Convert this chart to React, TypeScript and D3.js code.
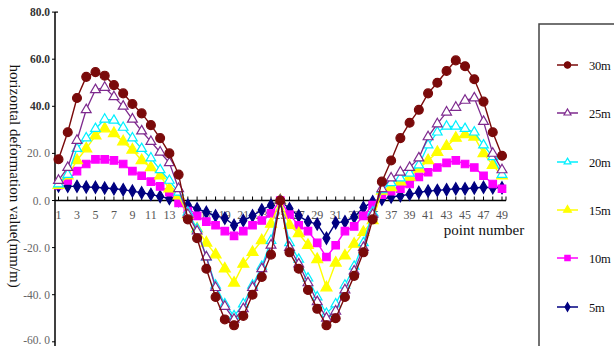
import React from "react";
import * as d3 from "d3";

// Point numbers along the survey line
const points: number[] = d3.range(1, 50);

// Horizontal deformation (mm/m) per mining depth
const s30m: number[] = [17.5, 29, 43.5, 52.5, 54.5, 53, 49, 45.5, 41, 37, 32, 26.5, 20, 11,
  -8, -16, -29, -41, -50.5, -53, -49, -40, -32.5, -23, 0,
  -22, -29, -38, -46, -53, -50, -41, -32, -22, -8,
  8, 17, 26.5, 33, 38.5, 45.5, 50, 55, 59.5, 57, 51.5, 42, 29, 19];
const s25m: number[] = [8.5, 14, 25.5, 38.5, 47, 48, 44, 40, 34.5, 29.5, 25, 20.5, 16, 5,
  -6, -13, -24, -37, -45, -50.5, -46, -37, -29, -19, 0,
  -20, -27, -35, -43, -50, -47, -38, -30, -20, -6,
  5, 9.5, 12, 14, 18, 27, 32.5, 37.5, 39.5, 42.5, 43.5, 33.5, 20, 13];
const s20m: number[] = [7, 11, 22, 26.5, 30.5, 34.5, 34, 31, 26.5, 22, 18, 13, 8.5, 3.5,
  -5, -12, -24, -36, -44, -49, -44, -36, -28, -17, 0,
  -18, -25, -33, -41, -48, -44, -36, -28, -18, -5,
  4.5, 7.5, 9.5, 11.5, 15, 23.5, 29, 31.5, 31.5, 30.5, 29, 23.5, 18.5, 11];
const s15m: number[] = [6.5, 10.5, 17, 22, 27.5, 30.5, 28.5, 25, 21.5, 17, 14, 10.5, 5, 2,
  -6, -12, -18, -23, -29, -35, -27, -22, -17, -10, 0,
  -10.5, -14, -19, -25, -37, -26.5, -23.5, -18.5, -13.5, -8.5,
  4, 5.5, 8, 10, 13.5, 17, 20.5, 23, 26.5, 28, 27, 20, 15, 10.5];
const s10m: number[] = [6.5, 8.5, 12.5, 15.5, 17.5, 17.5, 17, 15.5, 12.5, 10.5, 8, 6, 3.5, -1,
  -4.5, -6.5, -9, -10.5, -13, -15, -13, -10.5, -8.5, -5.5, 0,
  -6, -10.5, -13, -18, -24, -19, -13, -11, -6.5, -2,
  2.5, 4, 5, 7, 10, 12, 14, 16, 17, 15.5, 14, 10.5, 7, 5];
const s5m: number[] = [6.2, 6, 6, 5.7, 5.6, 5.3, 5, 4.6, 4, 3.3, 2.6, 1.7, 0.8, 0,
  -2, -3.5, -5, -6.5, -7.5, -10.5, -8.5, -6.5, -4, -2, 0,
  -3.5, -6.5, -9, -10, -16, -9.5, -9, -7, -3, -0.5,
  0.5, 1.5, 2, 2.6, 3.5, 4, 4.3, 4.6, 5, 5, 5.3, 5.6, 5.4, 5.4];

const seriesNames: string[] = ["30m", "25m", "20m", "15m", "10m", "5m"];
const yTickValues: number[] = [80, 60, 40, 20, 0, -20, -40, -60];
const yTickLabels: string[] = ["80.0", "60.0", "40.0", "20. 0", "0. 0", "-20. 0", "-40. 0", "-60. 0"];
const xTickLabels: number[] = d3.range(1, 50, 2);

type Style = { color: string; shape: d3.SymbolType; size: number; fill: string; sw: number };
const styles: Record<string, Style> = {
  "30m": { color: "#7a0a0a", shape: d3.symbolCircle, size: 62, fill: "#7a0a0a", sw: 1.4 },
  "25m": { color: "#7e2a8e", shape: d3.symbolTriangle, size: 42, fill: "#ffffff", sw: 1.3 },
  "20m": { color: "#00f0ff", shape: d3.symbolTriangle, size: 40, fill: "#ffffff", sw: 1.3 },
  "15m": { color: "#ffff00", shape: d3.symbolTriangle, size: 52, fill: "#ffff00", sw: 1.4 },
  "10m": { color: "#ff00ff", shape: d3.symbolSquare, size: 56, fill: "#ff00ff", sw: 1.4 },
  "5m": { color: "#000080", shape: d3.symbolDiamond, size: 42, fill: "#000080", sw: 1.4 },
};
const seriesData: Record<string, number[]> = {
  "30m": s30m, "25m": s25m, "20m": s20m, "15m": s15m, "10m": s10m, "5m": s5m,
};

const W = 614;
const H = 346;
const serif = "'Liberation Serif', 'Times New Roman', serif";

export default function App() {
  const x = d3.scaleLinear().domain([1, 49]).range([58.5, 502]);
  const y = d3.scaleLinear().domain([-60, 80]).range([341.8, 12.1]);
  const line = d3.line<number>().x((_, i) => x(points[i])).y((v) => y(v));
  const y0 = y(0);
  const drawOrder = [...seriesNames].reverse();
  const legendY = [65, 113, 162, 210, 258, 307];

  return (
    <svg width={W} height={H} style={{ position: "absolute", left: 0, top: 0, background: "#fff" }}>
      <rect x={0} y={0} width={W} height={H} fill="#fff" />

      {/* y axis */}
      <line x1={55} x2={55} y1={y(80)} y2={H} stroke="#000" strokeWidth={1.5} />
      <line x1={55} x2={58} y1={y(80)} y2={y(80)} stroke="#000" strokeWidth={1.2} />
      {yTickValues.map((v, i) => (
        <g key={v}>
          <line x1={52} x2={55} y1={y(v)} y2={y(v)} stroke="#000" strokeWidth={1} />
          <text x={50} y={Math.min(y(v) + 4, 344)} textAnchor="end" fontFamily={serif} fontSize={11.5}
            fill={v > 20 ? "#333" : "#666"} fontWeight={v > 20 ? "bold" : "normal"}>
            {yTickLabels[i]}
          </text>
        </g>
      ))}

      {/* x axis at zero */}
      <line x1={55} x2={506} y1={y0} y2={y0} stroke="#000" strokeWidth={1.5} />
      {points.map((p) => (
        <line key={p} x1={x(p)} x2={x(p)} y1={y0} y2={y0 - 4} stroke="#000" strokeWidth={1} />
      ))}
      <line x1={506} x2={506} y1={y0} y2={y0 - 4} stroke="#000" strokeWidth={1} />
      {xTickLabels.map((p) => (
        <text key={p} x={x(p)} y={y0 + 18} textAnchor="middle" fontFamily={serif} fontSize={12} fill="#555">
          {p}
        </text>
      ))}

      {/* axis titles */}
      <text x={484} y={235} textAnchor="middle" fontFamily={serif} fontSize={15} fill="#111">
        point number
      </text>
      <text transform={`translate(10,176) rotate(90)`} textAnchor="middle" fontFamily={serif} fontSize={15} fill="#111">
        horizontal deformation value(mm/m)
      </text>

      {/* series */}
      {drawOrder.map((name) => {
        const st = styles[name];
        const vals = seriesData[name];
        const sym = d3.symbol().type(st.shape).size(st.size)();
        return (
          <g key={name}>
            <path d={line(vals) || ""} fill="none" stroke={st.color} strokeWidth={st.sw} />
            {vals.map((v, i) => (
              <path key={i} d={sym || ""} transform={`translate(${x(points[i])},${y(v)})`}
                fill={st.fill} stroke={st.color} strokeWidth={1.2} />
            ))}
          </g>
        );
      })}

      {/* legend */}
      <rect x={539} y={24} width={100} height={340} fill="#fff" stroke="#444" strokeWidth={1.5} />
      {seriesNames.map((name, i) => {
        const st = styles[name];
        const sym = d3.symbol().type(st.shape).size(st.size * 0.5)();
        const ly = legendY[i];
        return (
          <g key={name}>
            <line x1={557} x2={578} y1={ly} y2={ly} stroke={st.color} strokeWidth={1.5} />
            <path d={sym || ""} transform={`translate(567.5,${ly})`} fill={st.fill} stroke={st.color} strokeWidth={1.2} />
            <text x={589} y={ly + 4.5} fontFamily={serif} fontSize={12.5} fill="#111" letterSpacing={-0.3}>{name}</text>
          </g>
        );
      })}
    </svg>
  );
}
